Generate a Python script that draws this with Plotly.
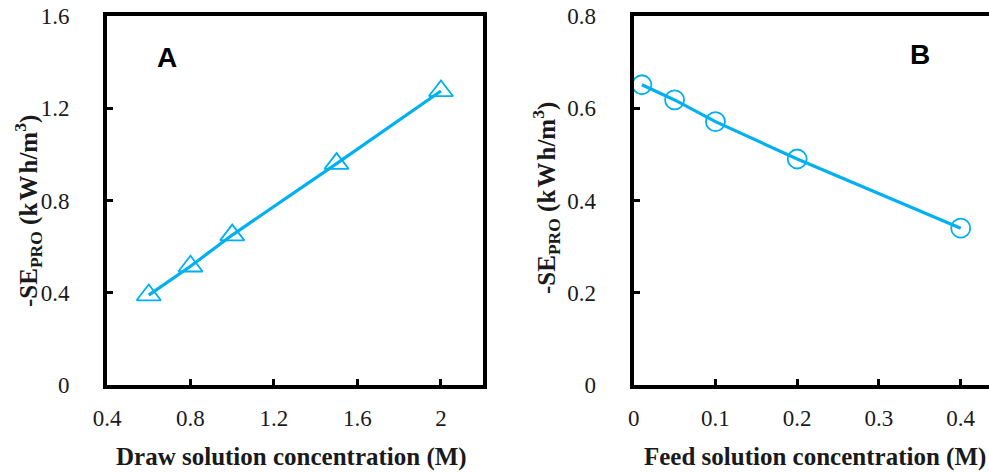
import plotly.graph_objects as go

# Panel A: draw solution concentration vs specific energy
draw_conc = [0.6, 0.8, 1.0, 1.5, 2.0]
se_draw = [0.39, 0.515, 0.65, 0.96, 1.275]

# Panel B: feed solution concentration vs specific energy
feed_conc = [0.01, 0.05, 0.1, 0.2, 0.4]
se_feed = [0.651, 0.618, 0.571, 0.49, 0.34]

xticks_a = [0.4, 0.8, 1.2, 1.6, 2.0]
xtext_a = ["0.4", "0.8", "1.2", "1.6", "2"]
yticks_a = [0, 0.4, 0.8, 1.2, 1.6]
ytext_a = ["0", "0.4", "0.8", "1.2", "1.6"]
xticks_b = [0, 0.1, 0.2, 0.3, 0.4]
xtext_b = ["0", "0.1", "0.2", "0.3", "0.4"]
yticks_b = [0, 0.2, 0.4, 0.6, 0.8]
ytext_b = ["0", "0.2", "0.4", "0.6", "0.8"]

BLUE = "#00B0F0"
SERIF = "Liberation Serif"

fig = go.Figure()
fig.add_trace(go.Scatter(
    x=draw_conc, y=se_draw, mode="lines+markers", xaxis="x", yaxis="y",
    line=dict(color=BLUE, width=3.2),
    marker=dict(symbol="triangle-up-open", size=21, color=BLUE, line=dict(width=1.8, color=BLUE)),
    showlegend=False,
))
fig.add_trace(go.Scatter(
    x=feed_conc, y=se_feed, mode="lines+markers", xaxis="x2", yaxis="y2",
    line=dict(color=BLUE, width=3.2),
    marker=dict(symbol="circle-open", size=19, color=BLUE, line=dict(width=1.8, color=BLUE)),
    showlegend=False,
))

dom_a = [107 / 989, 482.7 / 989]
dom_b = [633.7 / 989, 1.0]
dom_y = [(472 - 385) / 472, (472 - 16) / 472]


def axis_style(standoff):
    return dict(
        showgrid=False, zeroline=False, showline=True, linecolor="black", linewidth=4,
        ticks="inside", ticklen=6, tickwidth=3, tickcolor="black",
        tickfont=dict(family=SERIF, size=23, color="#1a1a1a"),
        ticklabelstandoff=standoff, automargin=False,
    )


fig.update_layout(
    template="none",
    width=989, height=472,
    margin=dict(l=0, r=0, t=0, b=0, autoexpand=False),
    font=dict(family=SERIF, size=23, color="#1a1a1a"),
    paper_bgcolor="white", plot_bgcolor="white",
    xaxis=dict(domain=dom_a, range=[0.4, 2.2], tickvals=xticks_a, ticktext=xtext_a,
               anchor="y", mirror=True, **axis_style(9)),
    yaxis=dict(domain=dom_y, range=[0, 1.6], tickvals=yticks_a, ticktext=ytext_a,
               anchor="x", mirror=True, **axis_style(29)),
    xaxis2=dict(domain=dom_b, range=[0, 0.4346], tickvals=xticks_b, ticktext=xtext_b,
                anchor="y2", mirror=True, **axis_style(9)),
    yaxis2=dict(domain=dom_y, range=[0, 0.8], tickvals=yticks_b, ticktext=ytext_b,
                anchor="x2", mirror=False, **axis_style(29)),
)

ytitle = "-SE<sub>PRO</sub> (k\u200aW\u200ah/m<sup>3</sup>)"
title_font = dict(family=SERIF, size=25, color="#1a1a1a")
letter_font = dict(family="Liberation Sans", size=28, color="black")


def paper_text(text, x, y, font, angle=0):
    return dict(text=text, x=x / 989, y=(472 - y) / 472, xref="paper", yref="paper",
                xanchor="center", yanchor="middle", showarrow=False, font=font,
                textangle=angle)


annotations = [
    paper_text("<b>Draw solution concentration (M)</b>", 291, 457, title_font),
    paper_text("<b>Feed solution concentration (M)</b>", 815, 457, title_font),
    paper_text("<b>" + ytitle + "</b>", 28, 211, title_font, -90),
    paper_text("<b>" + ytitle + "</b>", 546, 198, title_font, -90),
    paper_text("<b>A</b>", 167, 57, letter_font),
    paper_text("<b>B</b>", 920, 54, letter_font),
]
fig.update_layout(annotations=annotations)

fig.write_html("out.html")
